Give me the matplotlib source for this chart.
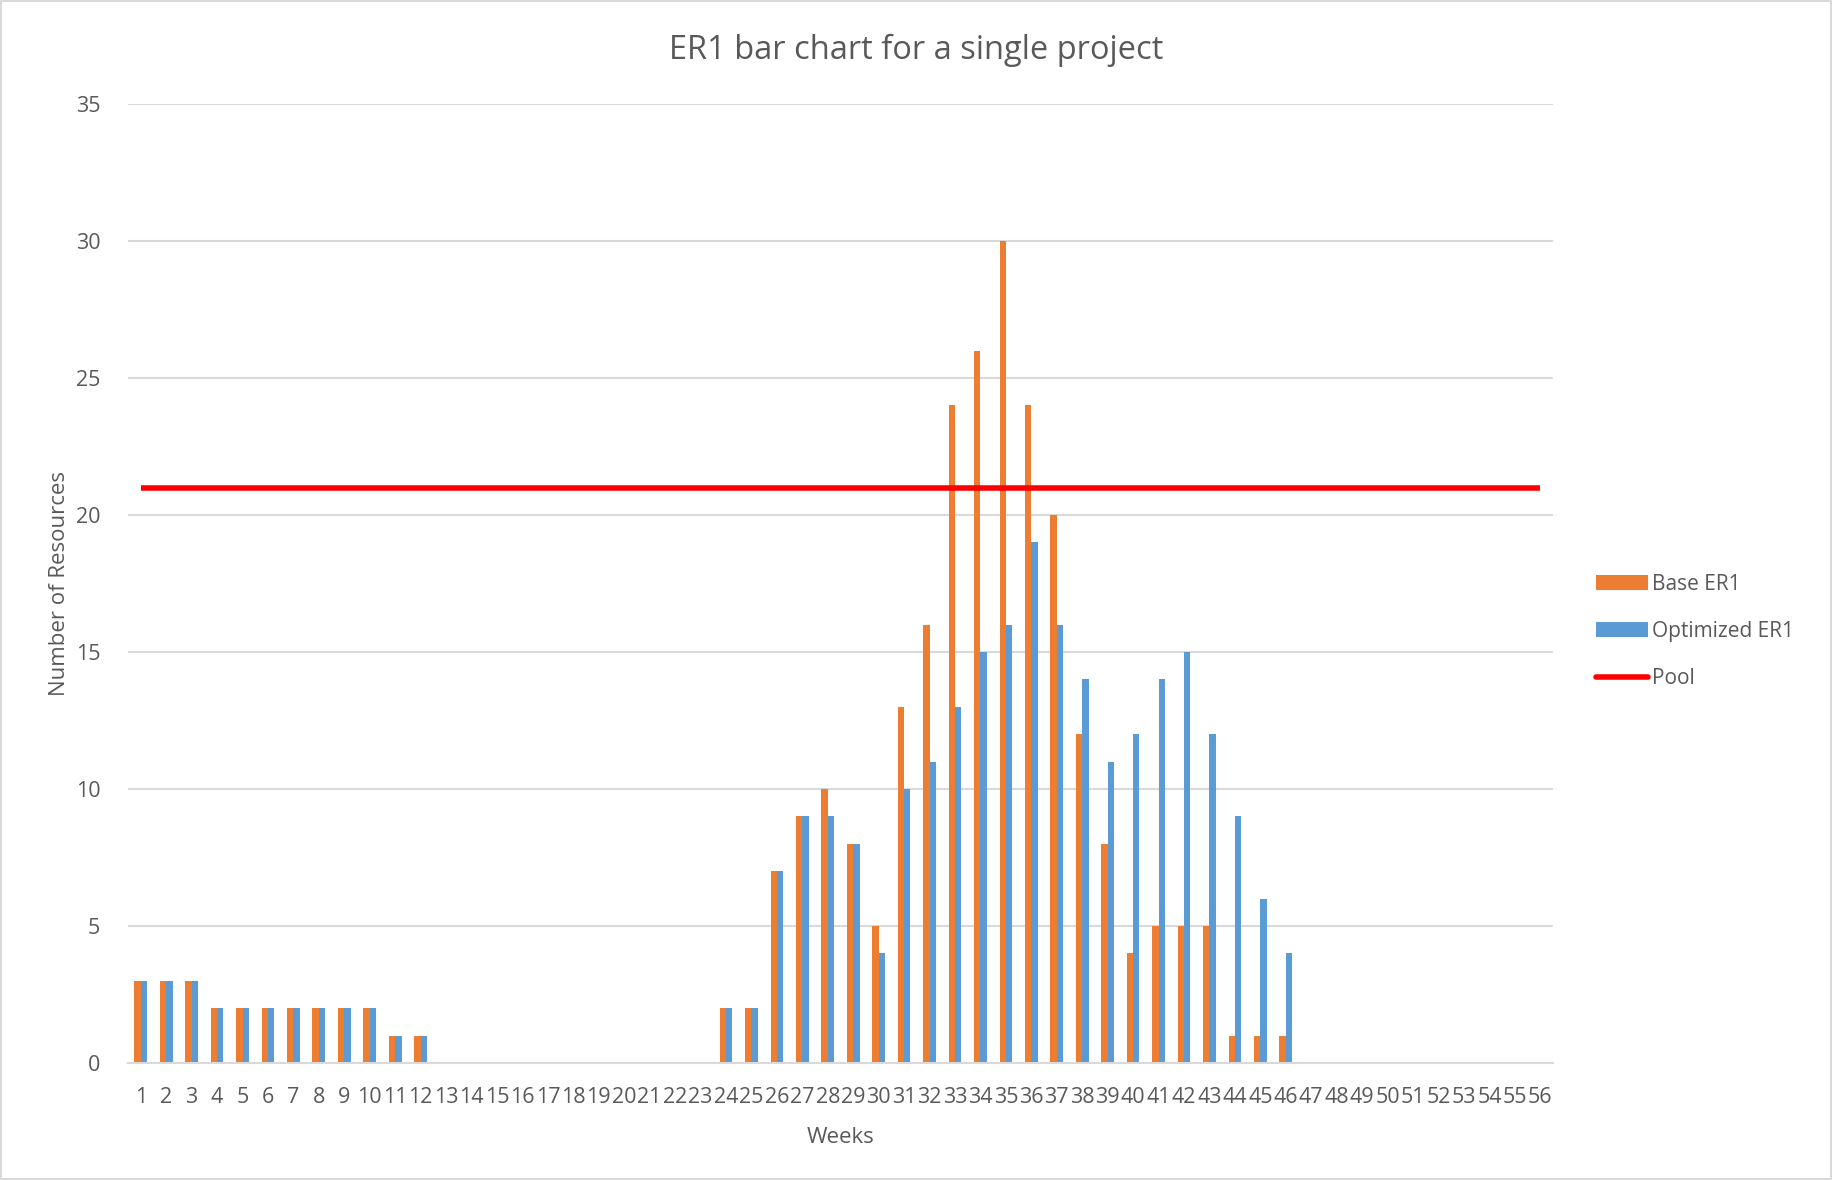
import matplotlib
matplotlib.use("Agg")
import matplotlib.pyplot as plt
import numpy as np

weeks = list(range(1, 57))
base_er1 = [3, 3, 3, 2, 2, 2, 2, 2, 2, 2, 1, 1,
            0, 0, 0, 0, 0, 0, 0, 0, 0, 0, 0,
            2, 2, 7, 9, 10, 8, 5, 13, 16, 24, 26, 30, 24, 20, 12, 8, 4, 5, 5, 5, 1, 1, 1,
            0, 0, 0, 0, 0, 0, 0, 0, 0, 0]
optimized_er1 = [3, 3, 3, 2, 2, 2, 2, 2, 2, 2, 1, 1,
                 0, 0, 0, 0, 0, 0, 0, 0, 0, 0, 0,
                 2, 2, 7, 9, 9, 8, 4, 10, 11, 13, 15, 16, 19, 16, 14, 11, 12, 14, 15, 12, 9, 6, 4,
                 0, 0, 0, 0, 0, 0, 0, 0, 0, 0]
pool = [21] * len(weeks)
yticks = [0, 5, 10, 15, 20, 25, 30, 35]

plt.rcParams['font.family'] = ['Open Sans', 'DejaVu Sans']
txt = '#595959'

fig = plt.figure(figsize=(18.32, 11.8), dpi=100)
fig.patch.set_edgecolor('#d9d9d9')
fig.patch.set_linewidth(1.5)
ax = fig.add_axes([128/1832, 1 - 1063/1180, (1553-128)/1832, (1063-104)/1180])

x = np.arange(len(weeks))
w = 0.25
b1 = ax.bar(x - w/2, base_er1, width=w, color='#ED7D31', label='Base ER1', zorder=2)
b2 = ax.bar(x + w/2, optimized_er1, width=w, color='#5B9BD5', label='Optimized ER1', zorder=2)
l1, = ax.plot(x, pool, color='#FF0000', linewidth=4, label='Pool', zorder=3, solid_capstyle='butt')

ax.set_xlim(-0.5, len(weeks) - 0.5)
ax.set_ylim(0, 35)
ax.set_yticks(yticks)
ax.set_xticks(x)
ax.set_xticklabels([str(v) for v in weeks])
ax.tick_params(axis='both', length=0, labelsize=15.5, labelcolor=txt)
ax.tick_params(axis='x', pad=17)
ax.tick_params(axis='y', pad=20)
ax.grid(axis='y', color='#d9d9d9', linewidth=1.5, zorder=0)
for s in ['top', 'right', 'left']:
    ax.spines[s].set_visible(False)
ax.spines['bottom'].set_color('#d9d9d9')
ax.spines['bottom'].set_linewidth(1.5)
ax.set_axisbelow(True)

ax.set_xlabel('Weeks', fontsize=16, color=txt, labelpad=14)
ax.set_ylabel('Number of Resources', fontsize=16, color=txt, labelpad=4)
fig.text(0.5, 1 - 50/1180, 'ER1 bar chart for a single project', fontsize=23.5,
         color=txt, ha='center', va='center')

leg = ax.legend(handles=[b1, b2, l1], loc='center left', bbox_to_anchor=(1.017, 0.45), frameon=False,
                fontsize=15, labelcolor=txt, handlelength=2.5, handleheight=0.7,
                handletextpad=0.2, labelspacing=1.25)
leg.legend_handles[2].set_solid_capstyle('round')

fig.savefig('out.png', dpi=100)
